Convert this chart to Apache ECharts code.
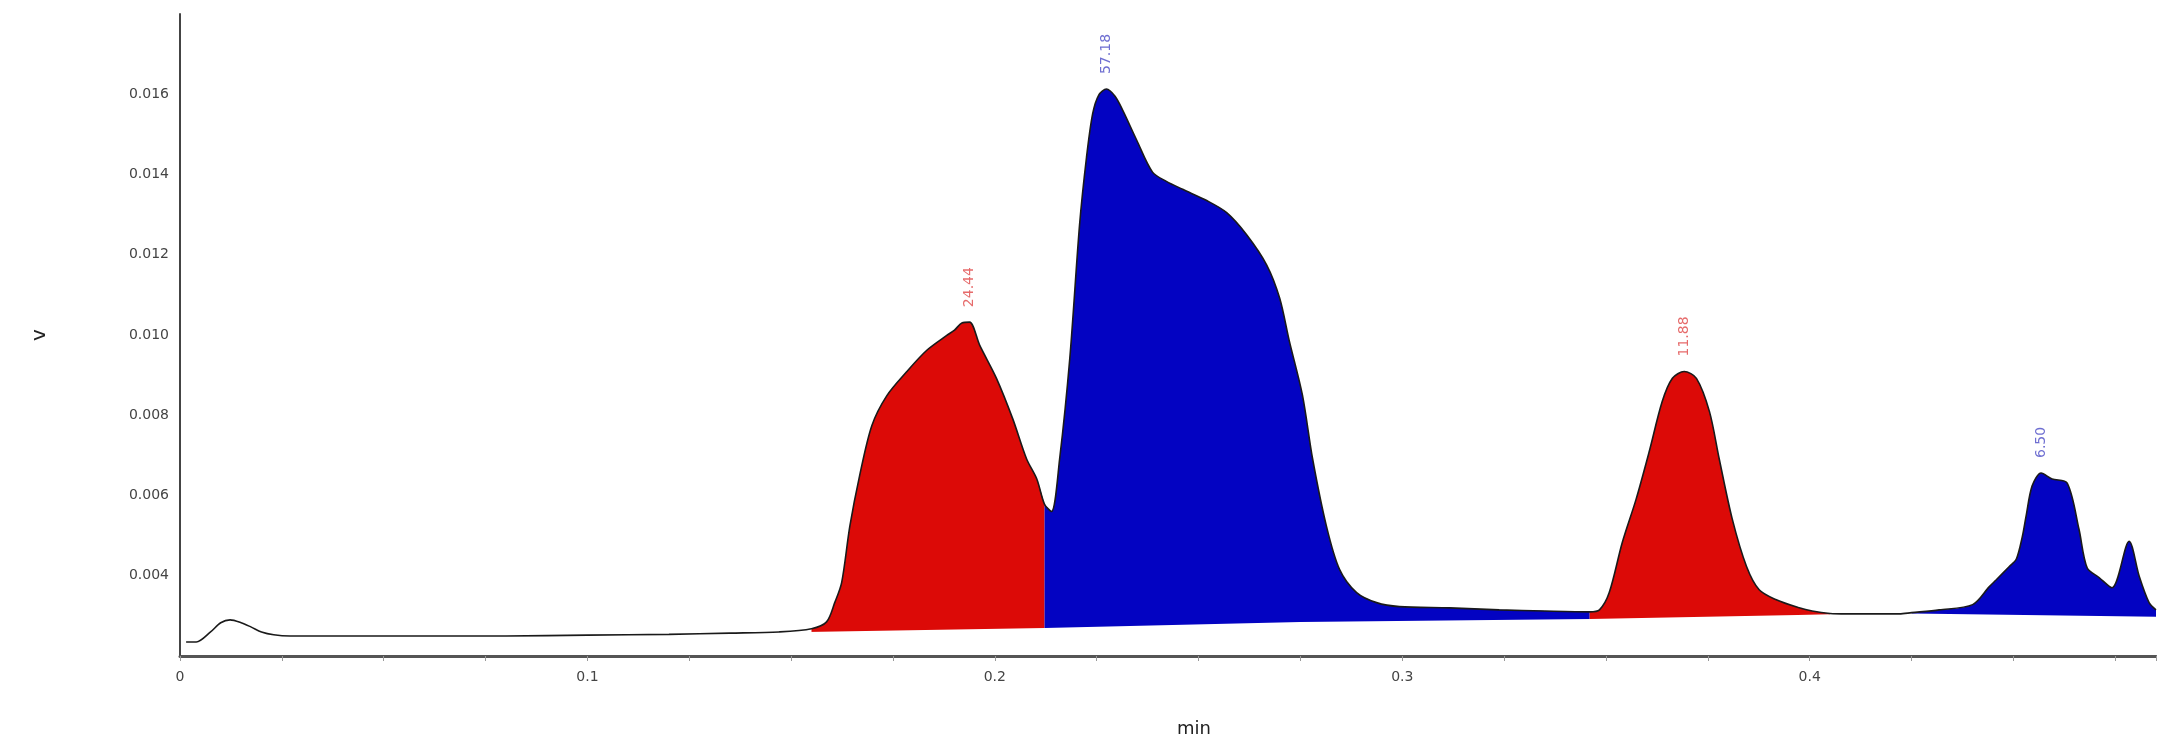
<!DOCTYPE html>
<html>
<head>
<meta charset="utf-8">
<title>chromatogram</title>
<script src="https://cdn.jsdelivr.net/npm/echarts@6/dist/echarts.min.js"></script>
<style>
  html, body { margin: 0; padding: 0; background: #fff; }
  #main { width: 2157px; height: 749px; }
</style>
</head>
<body>
<div id="main"></div>
<script>
// retention time (min) and signal (v)
var times = [
  0.0015, 0.004, 0.0075, 0.010, 0.0123, 0.015, 0.0175, 0.020, 0.023, 0.027,
  0.04, 0.06, 0.08, 0.10, 0.12, 0.135, 0.147,
  0.155, 0.1587, 0.1607, 0.1624, 0.1644, 0.1668, 0.1698, 0.1735, 0.1784, 0.1833,
  0.1882, 0.1901, 0.1919, 0.1938, 0.1963, 0.2004, 0.2044, 0.2078, 0.2103, 0.2122,
  0.2139, 0.2159, 0.2184, 0.2208, 0.2225, 0.224, 0.2255, 0.2274, 0.2295, 0.2314,
  0.2348, 0.2387, 0.2421, 0.2461, 0.252, 0.2569, 0.2618, 0.2667, 0.2699, 0.2723,
  0.2755, 0.278, 0.2814, 0.2846, 0.2888, 0.2937, 0.2993, 0.3116, 0.3238, 0.335,
  0.346, 0.3484, 0.3508, 0.354, 0.3574, 0.3606, 0.3638, 0.3663, 0.3692, 0.3722,
  0.3754, 0.3778, 0.381, 0.3845, 0.3876, 0.3918, 0.3974, 0.4006, 0.405,
  0.409, 0.4171, 0.422, 0.425, 0.4318, 0.44, 0.4441, 0.4458, 0.449, 0.4507,
  0.4522, 0.4531, 0.4546, 0.4568, 0.4595, 0.4632, 0.4661, 0.4681, 0.4711, 0.4742,
  0.4784, 0.4809, 0.4833, 0.485
];
var signal = [
  0.00235, 0.00235, 0.0026, 0.00283, 0.0029, 0.00283, 0.00272, 0.0026, 0.00253, 0.0025,
  0.0025, 0.0025, 0.0025, 0.00252, 0.00254, 0.00257, 0.0026,
  0.00268, 0.00285, 0.00333, 0.00383, 0.00523, 0.00649, 0.00774, 0.00849, 0.00909, 0.00962,
  0.00999, 0.01012, 0.0103, 0.01032, 0.00974, 0.00892, 0.00791, 0.00691, 0.00641, 0.00578,
  0.0056, 0.00691, 0.00942, 0.01275, 0.01443, 0.01551, 0.01598, 0.01613, 0.01595, 0.0156,
  0.01486, 0.01406, 0.01383, 0.01363, 0.01335, 0.01305, 0.0125, 0.01175, 0.01092, 0.00984,
  0.0085, 0.00691, 0.00523, 0.00416, 0.00358, 0.00333, 0.00323, 0.0032, 0.00315, 0.00312,
  0.0031, 0.00315, 0.00358, 0.00483, 0.00591, 0.00709, 0.00834, 0.00892, 0.00909, 0.00892,
  0.00809, 0.00691, 0.00541, 0.00423, 0.00365, 0.0034, 0.0032, 0.00312, 0.00306,
  0.00305, 0.00305, 0.00305, 0.00308, 0.00315, 0.00328, 0.00373, 0.0039, 0.00423, 0.00441,
  0.00498, 0.00548, 0.00624, 0.00656, 0.00641, 0.00631, 0.00516, 0.0042, 0.00395, 0.0037,
  0.00486, 0.00398, 0.00333, 0.00315
];

// integration baseline (drop line under the peaks)
var baseTimes = [0.150, 0.2122, 0.275, 0.346, 0.397, 0.405, 0.425, 0.485];
var baseValues = [0.00259, 0.0027, 0.00285, 0.00292, 0.00302, 0.00304, 0.00306, 0.00298];

// peak windows, fill colours and area %
var peakStart = [0.155, 0.2122, 0.346, 0.425];
var peakEnd   = [0.2122, 0.346, 0.405, 0.485];
var peakColors = ['#dc0a07', '#0303c2'];
var labelColors = ['#e04646', '#4a4ac6'];
var peakTimes = [0.1938, 0.2274, 0.3692, 0.4568];
var peakHeights = [0.01032, 0.01613, 0.00909, 0.00656];
var peakAreas = ['24.44', '57.18', '11.88', '6.50'];

var yTicks = [0.004, 0.006, 0.008, 0.010, 0.012, 0.014, 0.016];

var myChart = echarts.init(document.getElementById('main'));

function segment(t0, t1) {
    var out = [];
    for (var i = 0; i < times.length; i++) {
        if (times[i] >= t0 - 1e-9 && times[i] <= t1 + 1e-9) out.push([times[i], signal[i]]);
    }
    return out;
}

var SMOOTH = 0.3;
var series = [];
for (var k = 0; k < peakStart.length; k++) {
    series.push({
        type: 'line',
        data: segment(peakStart[k], peakEnd[k]),
        showSymbol: false,
        smooth: SMOOTH,
        lineStyle: { width: 0 },
        areaStyle: { color: peakColors[k % 2], opacity: 1, origin: 'start' },
        silent: true,
        z: 2
    });
}
// white under the baseline
series.push({
    type: 'line',
    data: baseTimes.map(function (t, i) { return [t, baseValues[i]]; }),
    showSymbol: false,
    lineStyle: { width: 0 },
    areaStyle: { color: '#fff', opacity: 1, origin: 'start' },
    silent: true,
    z: 3
});
// the trace itself
series.push({
    type: 'line',
    data: times.map(function (t, i) { return [t, signal[i]]; }),
    showSymbol: false,
    smooth: SMOOTH,
    lineStyle: { color: '#1a1a1a', width: 1.6 },
    silent: true,
    z: 4
});
// area labels above each peak
series.push({
    type: 'scatter',
    symbolSize: 0,
    data: peakTimes.map(function (t, i) {
        return {
            value: [t, peakHeights[i]],
            label: { color: labelColors[i % 2] }
        };
    }),
    label: {
        show: true,
        position: 'top',
        distance: 15,
        rotate: 90,
        align: 'left',
        verticalAlign: 'middle',
        fontFamily: 'DejaVu Sans',
        fontSize: 14,
        formatter: function (p) { return peakAreas[p.dataIndex]; }
    },
    silent: true,
    z: 5
});

var option = {
    animation: false,
    backgroundColor: '#fff',
    grid: { left: 180, right: 1, top: 14, bottom: 93 },
    xAxis: {
        type: 'value',
        min: 0,
        max: 0.485,
        interval: 0.1,
        z: 10,
        name: 'min',
        nameLocation: 'middle',
        nameGap: 64,
        nameTextStyle: { fontFamily: 'DejaVu Sans', fontSize: 18, color: '#222', padding: [0, 0, 0, 52] },
        axisLine: { lineStyle: { color: '#555', width: 3 } },
        axisTick: { show: true, length: 5, lineStyle: { color: '#999' } },
        minorTick: { show: true, splitNumber: 4, length: 5, lineStyle: { color: '#999' } },
        axisLabel: {
            fontFamily: 'DejaVu Sans', fontSize: 14, color: '#444', margin: 14,
            showMaxLabel: false,
            formatter: function (v) { return v === 0 ? '0' : String(+v.toFixed(1)); }
        },
        splitLine: { show: false }
    },
    yAxis: {
        type: 'value',
        min: 0.002,
        max: 0.018,
        interval: 0.002,
        z: 10,
        name: 'v',
        nameLocation: 'middle',
        nameGap: 130,
        nameTextStyle: { fontFamily: 'DejaVu Sans', fontSize: 20, color: '#222' },
        axisLine: { show: true, lineStyle: { color: '#444', width: 2 } },
        axisTick: { show: false },
        axisLabel: {
            fontFamily: 'DejaVu Sans', fontSize: 14, color: '#444', margin: 11,
            showMinLabel: false, showMaxLabel: false,
            formatter: function (v) {
                for (var i = 0; i < yTicks.length; i++) {
                    if (Math.abs(yTicks[i] - v) < 1e-7) return yTicks[i].toFixed(3);
                }
                return '';
            }
        },
        splitLine: { show: false }
    },
    series: series
};
myChart.setOption(option);
</script>
</body>
</html>
